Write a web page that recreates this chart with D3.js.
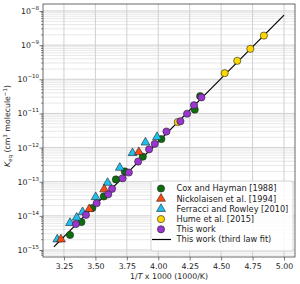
<!DOCTYPE html>
<html>
<head>
<meta charset="UTF-8" />
<script src="https://d3js.org/d3.v7.min.js"></script>
<style>
    body { margin: 0; background: #fff; }
    text { font-family: "DejaVu Sans", sans-serif; fill: #222; }
</style>
</head>
<body>
<svg id="chart" width="300" height="284"></svg>
<script>
    // valeurs (x = 1000/T, y = Keq)
    const coxX = [3.298, 3.389, 3.476, 3.567, 3.663, 3.734, 3.877, 4.025, 4.290, 4.333];
    const coxY = [2.75e-15, 6.6e-15, 1.7e-14, 3.7e-14, 1.17e-13, 2.0e-13, 5.4e-13, 1.78e-12, 1.29e-11, 3.2e-11];

    const nickX = [3.226, 3.451, 3.570, 3.845];
    const nickY = [2.05e-15, 1.58e-14, 6.0e-14, 7.4e-13];

    const ferX = [3.197, 3.298, 3.351, 3.398, 3.502, 3.597, 3.694, 3.795, 3.898, 3.990];
    const ferY = [2.05e-15, 6.2e-15, 8.9e-15, 1.29e-14, 3.55e-14, 9.3e-14, 2.57e-13, 6.9e-13, 1.41e-12, 2.04e-12];

    const humeX = [4.155, 4.528, 4.628, 4.732, 4.840];
    const humeY = [5.6e-12, 1.51e-10, 3.47e-10, 7.8e-10, 1.9e-9];

    const workX = [3.345, 3.425, 3.510, 3.602, 3.633, 3.716, 3.766, 3.840, 3.927, 3.972, 4.065, 4.176, 4.229, 4.284, 4.343];
    const workY = [5.75e-15, 1.07e-14, 2.34e-14, 4.27e-14, 6.2e-14, 1.26e-13, 1.86e-13, 3.9e-13, 8.9e-13, 1.29e-12, 2.95e-12, 5.9e-12, 9.8e-12, 1.74e-11, 2.95e-11];

    // ajustement (third law fit)
    const fitX = [3.17, 5.0];
    const fitY = [1.23e-15, 7.6e-9];

    const xTicks = [3.25, 3.5, 3.75, 4.0, 4.25, 4.5, 4.75, 5.0];
    const yExps = [-15, -14, -13, -12, -11, -10, -9, -8];

    const legendLabels = ["Cox and Hayman [1988]", "Nickolaisen et al. [1994]", "Ferracci and Rowley [2010]",
        "Hume et al.  [2015]", "This work", "This work (third law fit)"];

    const mLeft = 43, mRight = 295, mTop = 4, mBottom = 257;

    let svg = d3.select("#chart");

    let x = d3.scaleLinear().domain([3.0833, 5.0873]).range([mLeft, mRight]);
    let y = d3.scaleLog().domain([Math.pow(10, -15.205), Math.pow(10, -7.795)]).range([mBottom, mTop]);

    // grille mineure (log)
    let minor = [];
    for (let e = -16; e <= -8; e++) {
        for (let k = 2; k <= 9; k++) {
            let v = k * Math.pow(10, e);
            if (v > y.domain()[0] && v < y.domain()[1]) minor.push(v);
        }
    }
    let grid = svg.append("g");
    grid.selectAll(".gm").data(minor).enter().append("line")
        .attr("x1", mLeft).attr("x2", mRight)
        .attr("y1", d => y(d)).attr("y2", d => y(d))
        .attr("stroke", "#e2e2e2").attr("stroke-width", 0.8);
    grid.selectAll(".gy").data(yExps).enter().append("line")
        .attr("x1", mLeft).attr("x2", mRight)
        .attr("y1", d => y(Math.pow(10, d))).attr("y2", d => y(Math.pow(10, d)))
        .attr("stroke", "#d0d0d0").attr("stroke-width", 1);
    grid.selectAll(".gx").data(xTicks).enter().append("line")
        .attr("y1", mTop).attr("y2", mBottom)
        .attr("x1", d => x(d)).attr("x2", d => x(d))
        .attr("stroke", "#d0d0d0").attr("stroke-width", 1);

    // axes
    let xAxis = svg.append("g").attr("transform", `translate(0,${mBottom})`)
        .call(d3.axisBottom(x).tickValues(xTicks).tickFormat(d3.format(".2f")).tickSize(3.5).tickPadding(3));
    xAxis.selectAll("text").style("font-size", "7.8px");

    let yAxis = svg.append("g").attr("transform", `translate(${mLeft},0)`)
        .call(d3.axisLeft(y).tickValues(yExps.map(e => Math.pow(10, e))).tickFormat("").tickSize(3.5));
    yAxis.append("g").selectAll("line").data(minor).enter().append("line")
        .attr("x1", -2).attr("x2", 0)
        .attr("y1", d => y(d)).attr("y2", d => y(d))
        .attr("stroke", "#444").attr("stroke-width", 0.6);

    let ylab = svg.append("g").selectAll("text").data(yExps).enter().append("text")
        .attr("x", 39).attr("y", d => y(Math.pow(10, d)) + 3)
        .attr("text-anchor", "end")
        .style("font-size", "7.8px");
    ylab.append("tspan").text("10");
    ylab.append("tspan").attr("dy", -4).style("font-size", "5.5px").text(d => "\u2212" + Math.abs(d));

    svg.selectAll(".domain").remove();
    svg.selectAll(".tick line").attr("stroke", "#444").attr("stroke-width", 0.7);
    svg.append("rect").attr("x", mLeft).attr("y", mTop)
        .attr("width", mRight - mLeft).attr("height", mBottom - mTop)
        .attr("fill", "none").attr("stroke", "#444").attr("stroke-width", 0.8);

    // titres des axes
    let xl = svg.append("text").attr("x", (mLeft + mRight) / 2).attr("y", 279)
        .attr("text-anchor", "middle").style("font-size", "7.8px");
    xl.append("tspan").text("1/");
    xl.append("tspan").style("font-style", "italic").text("T");
    xl.append("tspan").text(" x 1000 (1000/K)");

    let yl = svg.append("text").attr("transform", "translate(10,126) rotate(-90)")
        .attr("text-anchor", "middle").style("font-size", "7.8px");
    yl.append("tspan").style("font-style", "italic").text("K");
    yl.append("tspan").attr("dy", 2).style("font-size", "5.5px").text("eq");
    yl.append("tspan").attr("dy", -2).text(" (cm");
    yl.append("tspan").attr("dy", -3.5).style("font-size", "5.5px").text("3");
    yl.append("tspan").attr("dy", 3.5).text(" molecule");
    yl.append("tspan").attr("dy", -3.5).style("font-size", "5.5px").text("\u22121");
    yl.append("tspan").attr("dy", 3.5).text(")");

    // droite d'ajustement
    let line = d3.line().x(d => x(d[0])).y(d => y(d[1]));
    svg.append("path").datum(d3.zip(fitX, fitY))
        .attr("d", line).attr("fill", "none")
        .attr("stroke", "#000").attr("stroke-width", 1.2);

    let tri = d3.symbol().type(d3.symbolTriangle).size(34);

    function circles(xs, ys, color) {
        svg.append("g").selectAll("circle").data(d3.zip(xs, ys)).enter().append("circle")
            .attr("cx", d => x(d[0])).attr("cy", d => y(d[1])).attr("r", 3.6)
            .attr("fill", color).attr("stroke", "#222").attr("stroke-width", 0.6);
    }
    function triangles(xs, ys, color) {
        svg.append("g").selectAll("path").data(d3.zip(xs, ys)).enter().append("path")
            .attr("d", tri)
            .attr("transform", d => `translate(${x(d[0])},${y(d[1])})`)
            .attr("fill", color).attr("stroke", "#222").attr("stroke-width", 0.6);
    }

    const colors = ["#0b6e0b", "#ff4a12", "#1ec0f0", "#ffd700", "#9a35d0"];

    circles(coxX, coxY, colors[0]);
    triangles(ferX, ferY, colors[2]);
    triangles(nickX, nickY, colors[1]);
    circles(humeX, humeY, colors[3]);
    circles(workX, workY, colors[4]);

    // legende
    let lg = svg.append("g");
    lg.append("rect").attr("x", 151).attr("y", 181).attr("width", 142).attr("height", 70)
        .attr("rx", 2).attr("fill", "#fff").attr("fill-opacity", 0.85)
        .attr("stroke", "#ccc").attr("stroke-width", 0.8);
    legendLabels.forEach((lab, i) => {
        let cy = 188.5 + i * 10.2;
        if (i === 1 || i === 2) {
            lg.append("path").attr("d", tri).attr("transform", `translate(161,${cy})`)
                .attr("fill", colors[i]).attr("stroke", "#222").attr("stroke-width", 0.6);
        } else if (i < 5) {
            lg.append("circle").attr("cx", 161).attr("cy", cy).attr("r", 3.6)
                .attr("fill", colors[i]).attr("stroke", "#222").attr("stroke-width", 0.6);
        } else {
            lg.append("line").attr("x1", 152).attr("x2", 171).attr("y1", cy).attr("y2", cy)
                .attr("stroke", "#000").attr("stroke-width", 1.2);
        }
        lg.append("text").attr("x", 176.5).attr("y", cy + 2.9)
            .style("font-size", "8.2px").text(lab);
    });
</script>
</body>
</html>
